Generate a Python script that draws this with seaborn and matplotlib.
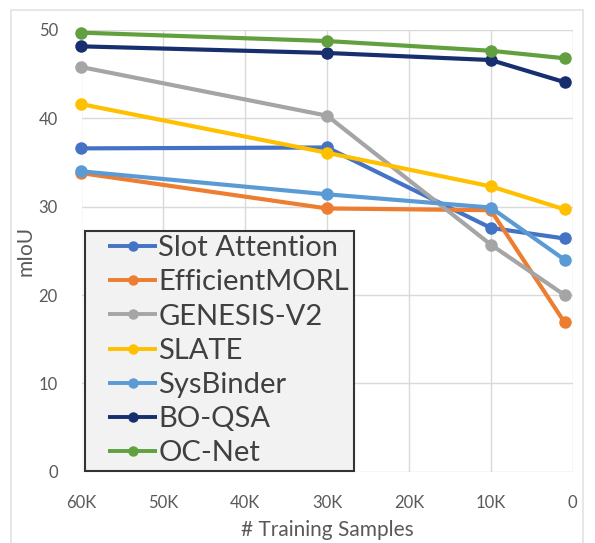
import matplotlib
matplotlib.use("Agg")
import matplotlib.pyplot as plt
import seaborn as sns
import pandas as pd
from matplotlib.patches import Rectangle
from matplotlib.lines import Line2D
from matplotlib.legend_handler import HandlerBase

# ---- data ----
samples = [60000, 30000, 10000, 1000]
methods = ["Slot Attention", "EfficientMORL", "GENESIS-V2", "SLATE",
           "SysBinder", "BO-QSA", "OC-Net"]
slot_attention = [36.6, 36.7, 27.6, 26.4]
efficient_morl = [33.8, 29.8, 29.6, 16.9]
genesis_v2 = [45.8, 40.3, 25.7, 20.0]
slate = [41.6, 36.1, 32.3, 29.7]
sysbinder = [34.0, 31.4, 29.9, 24.0]
bo_qsa = [48.15, 47.4, 46.6, 44.1]
oc_net = [49.7, 48.75, 47.65, 46.8]
x_ticks = [60000, 50000, 40000, 30000, 20000, 10000, 0]
x_tick_labels = ["60K", "50K", "40K", "30K", "20K", "10K", "0"]
y_ticks = [0, 10, 20, 30, 40, 50]

series = [slot_attention, efficient_morl, genesis_v2, slate, sysbinder, bo_qsa, oc_net]
colors = ["#4472C4", "#ED7D31", "#A5A5A5", "#FFC000", "#5B9BD5", "#172F6E", "#62A03F"]

rows = []
for m, vals in zip(methods, series):
    for s, v in zip(samples, vals):
        rows.append({"Method": m, "Samples": s, "mIoU": v})
df = pd.DataFrame(rows)

sns.set_theme(style="white")
plt.rcParams['font.family'] = ['Lato', 'DejaVu Sans']

fig = plt.figure(figsize=(5.95, 5.43), dpi=100)
ax = fig.add_axes([81.5/595, 1-471.7/543, (572.7-81.5)/595, (471.7-30)/543])

# outer chart frame
fig.patches.append(Rectangle((11/595, -0.05), (583-11)/595, 1-10/543+0.05,
                             transform=fig.transFigure, fill=False,
                             edgecolor="#e3e3e3", linewidth=1.2))

sns.lineplot(data=df, x="Samples", y="mIoU", hue="Method", hue_order=methods,
             palette=colors, marker="o", markersize=9, markeredgewidth=0,
             linewidth=3, ax=ax, legend=False)
for ln in ax.lines:
    ln.set_clip_on(False)

ax.set_xlim(60000, 0)
ax.set_ylim(0, 50)
ax.set_xticks(x_ticks)
ax.set_xticklabels(x_tick_labels)
ax.set_yticks(y_ticks)
ax.grid(True, color="#d9d9d9", linewidth=1)
ax.set_axisbelow(True)
for sp in ax.spines.values():
    sp.set_visible(False)
ax.tick_params(axis="both", length=0, labelsize=12, colors="#595959")
ax.tick_params(axis="y", pad=17)
ax.tick_params(axis="x", pad=17)
ax.set_xlabel("# Training Samples", fontsize=15, color="#595959", labelpad=6)
ax.set_ylabel("mIoU", fontsize=15, color="#595959", labelpad=2)


class OffsetLineHandler(HandlerBase):
    def create_artists(self, legend, orig_handle, xdescent, ydescent,
                       width, height, fontsize, trans):
        x0 = -xdescent + width * 0.28
        x1 = -xdescent + width
        y = -ydescent + height / 2
        c = orig_handle.get_color()
        line = Line2D([x0, x1], [y, y], color=c, lw=2.8, solid_capstyle="butt")
        mk = Line2D([(x0 + x1) / 2], [y], color=c, marker="o", markersize=7.5,
                    markeredgewidth=0, linestyle="none")
        line.set_transform(trans)
        mk.set_transform(trans)
        return [line, mk]


handles = [Line2D([0], [0], color=c) for c in colors]
leg = fig.legend(handles, methods, loc="lower left",
                 bbox_to_anchor=(85/595, 1-471/543), borderaxespad=0,
                 fontsize=21, frameon=True, fancybox=False,
                 handlelength=2.3, handletextpad=0.05, labelspacing=0.28,
                 borderpad=0.16,
                 handler_map={Line2D: OffsetLineHandler()})
fr = leg.get_frame()
fr.set_facecolor("#f2f2f2")
fr.set_edgecolor("#333333")
fr.set_linewidth(1.5)
fr.set_alpha(1)
for t in leg.get_texts():
    t.set_color("#404040")

fig.savefig("out.png", dpi=100)
